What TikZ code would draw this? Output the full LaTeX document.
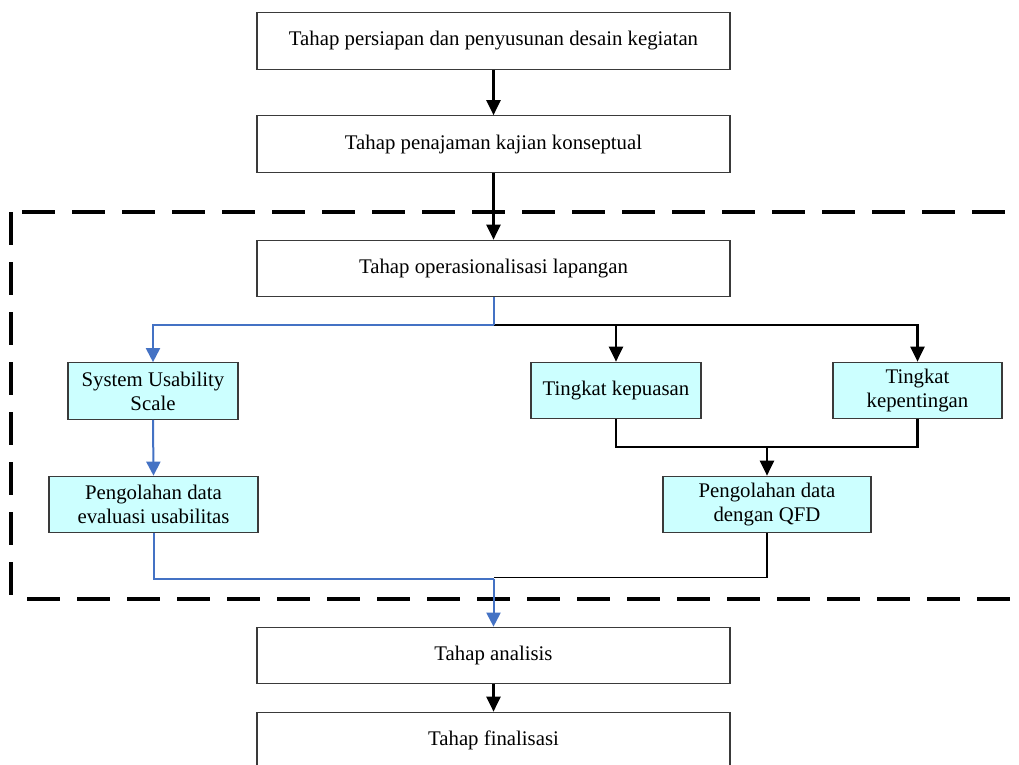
\documentclass[tikz,border=0pt]{standalone}
\usepackage{fontspec}
\setmainfont{Liberation Serif}
\usetikzlibrary{arrows.meta,positioning,calc}
\definecolor{boxfill}{HTML}{CCFFFF}
\definecolor{flowblue}{HTML}{4472C4}
\definecolor{boxline}{HTML}{3A3A3A}
\tikzset{
  basebox/.style={draw=boxline, line width=1.2pt, align=center, inner sep=2pt,
    font=\fontsize{20.8}{24}\selectfont, text=black},
  mainbox/.style={basebox, fill=white, minimum width=473pt, minimum height=56.5pt},
  subbox/.style={basebox, fill=boxfill, minimum height=56.5pt},
  blackarrow/.style={draw=black, line width=2.2pt, -{Triangle[length=15pt,width=14pt]}},
  blackline/.style={draw=black, line width=2.2pt},
  thinline/.style={draw=black, line width=1.6pt},
  bluearrow/.style={draw=flowblue, line width=2pt, -{Triangle[length=14pt,width=14pt]}},
  blueline/.style={draw=flowblue, line width=2pt},
  frame/.style={draw=black, line width=4pt, dash pattern=on 33pt off 17pt},
}
\begin{document}
\begin{tikzpicture}[x=1pt,y=-1pt]
\useasboundingbox (0,0) rectangle (1019,764);
\clip (0,0) rectangle (1019,764);

% dashed frame
\draw[frame, dash phase=39pt] (11,212) -- (1030,212);
\draw[frame] (11,212) -- (11,598);
\draw[frame, dash phase=34pt] (11,598.5) -- (1030,598.5);

% main boxes
\node[mainbox] (b1) at (493.5,41) {Tahap persiapan dan penyusunan desain kegiatan};
\node[mainbox] (b2) at (493.5,144) {Tahap penajaman kajian konseptual};
\node[mainbox] (b3) at (493.5,268.5) {Tahap operasionalisasi lapangan};
\node[mainbox] (ana) at (493.5,655.5) {Tahap analisis};
\node[mainbox] (fin) at (493.5,740.5) {Tahap finalisasi};

% sub boxes
\node[subbox, minimum width=170pt] (sus) at (153,391) {System Usability\\Scale};
\node[subbox, minimum width=170pt] (kep) at (616,390.5) {Tingkat kepuasan};
\node[subbox, minimum width=169pt] (pen) at (917.5,390.5) {Tingkat\\kepentingan};
\node[subbox, minimum width=209pt] (usab) at (153.5,504.5) {Pengolahan data\\evaluasi usabilitas};
\node[subbox, minimum width=208pt] (qfd) at (767,504.5) {Pengolahan data\\dengan QFD};

% junction coordinates
\coordinate (split) at (493.5,325);
\coordinate (merge) at (767,447);
\coordinate (join) at (493.5,579);

% connectors
\draw[blackarrow] (b1.south) -- (b2.north);
\draw[blackarrow] (b2.south) -- (b3.north);
\draw[blackarrow] (split) -| (kep.north);
\draw[blackarrow] (split) -| (pen.north);
\draw[blueline] (b3.south) -- (split);
\draw[bluearrow] (split) -| (sus.north);
\draw[bluearrow] (sus.south) -- (usab.north);
\draw[blackline] (kep.south) |- (merge);
\draw[blackline] (pen.south) |- (merge);
\draw[blackarrow] (merge) -- (qfd.north);
\draw[thinline] (qfd.south) |- ([yshift=1.5pt]join);
\draw[blueline] (usab.south) |- (join);
\draw[bluearrow] (join) -- (ana.north);
\draw[blackarrow] (ana.south) -- (fin.north);
\end{tikzpicture}
\end{document}
